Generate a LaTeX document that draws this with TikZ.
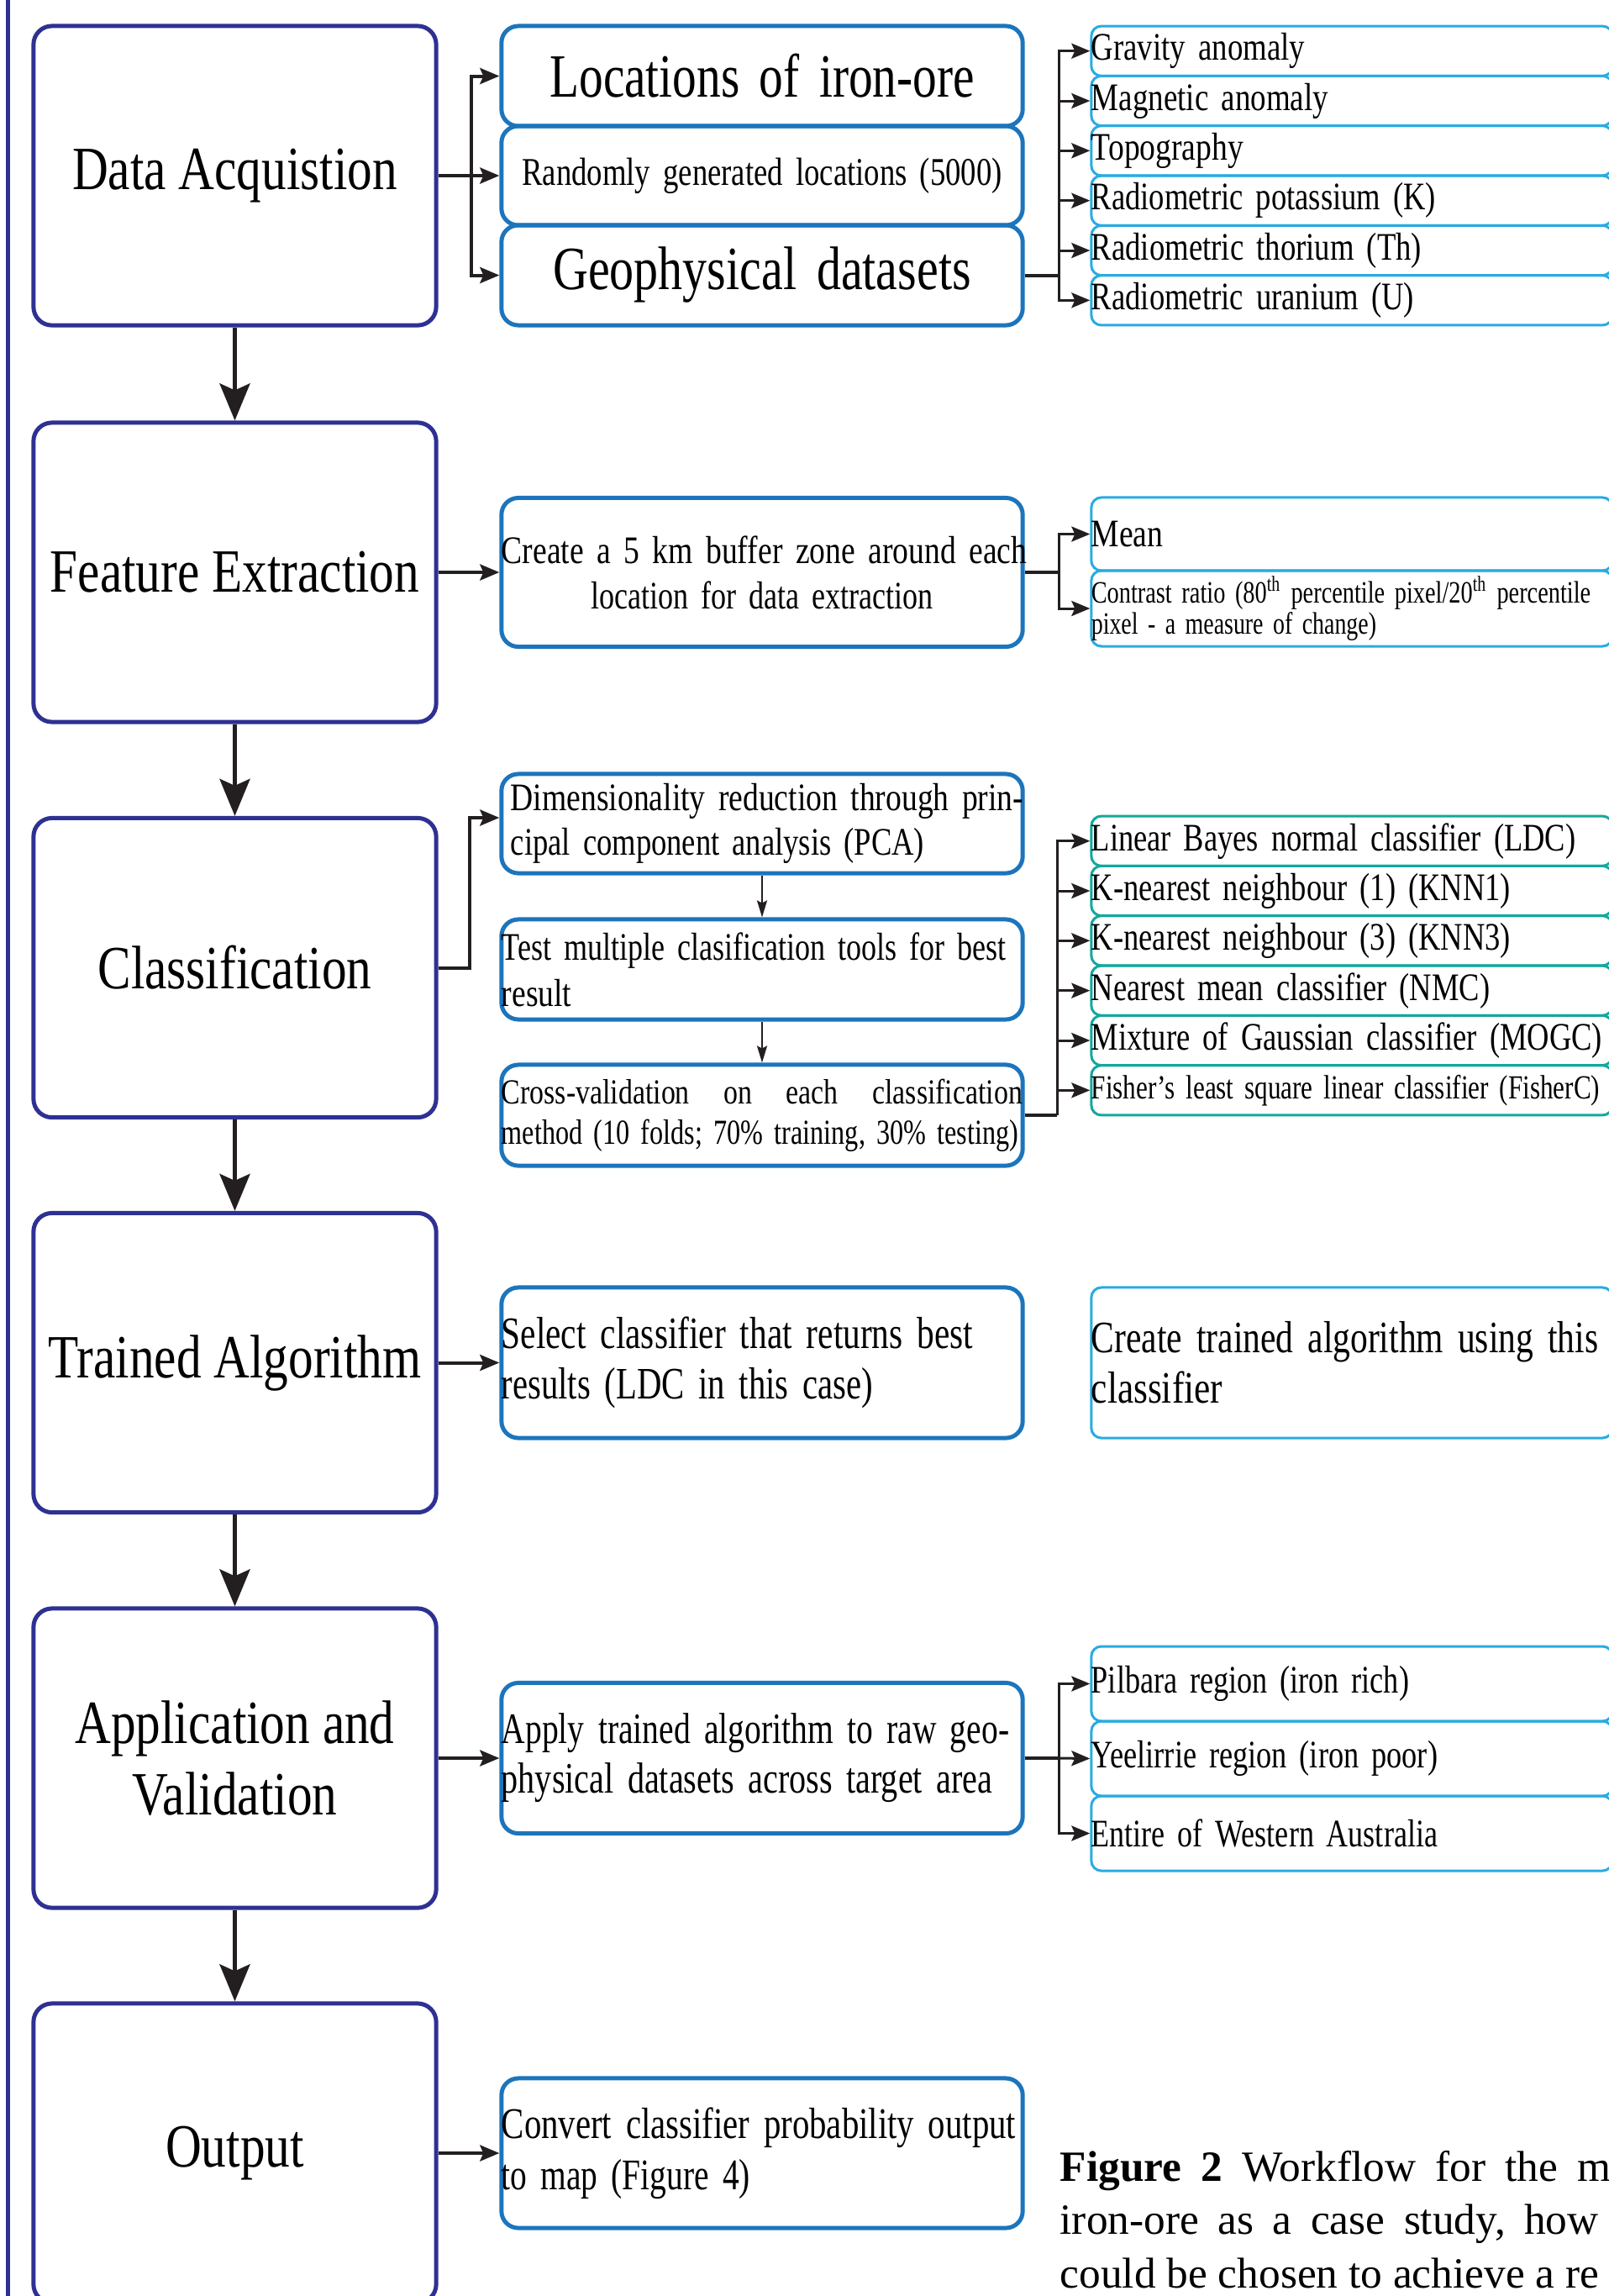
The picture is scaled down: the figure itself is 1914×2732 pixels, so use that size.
\documentclass[tikz,border=0pt]{standalone}
\usepackage{fontspec}
\usepackage{graphicx}
\setmainfont{Liberation Serif}
\newfontfamily\cnd[FakeStretch=0.81]{Liberation Serif}
\usetikzlibrary{arrows.meta,calc}
\definecolor{navy}{HTML}{2E3192}
\definecolor{midblue}{HTML}{1C75BC}
\definecolor{lblue}{HTML}{29ABE2}
\definecolor{tealc}{HTML}{12A89D}
\definecolor{ink}{HTML}{231F20}
\newcommand\cf[2]{\cnd\fontsize{#1pt}{#2pt}\selectfont}
\newcommand\LL[1]{\mbox{#1}}
\newcommand\fw[2]{\resizebox{#1}{\height}{#2}}
\begin{document}
\begin{tikzpicture}[x=0.01cm,y=-0.01cm,
  mainbox/.style={draw=navy, line width=0.05cm, rounded corners=0.22cm, minimum width=4.79cm, minimum height=3.56cm, inner sep=0pt, align=center, font=\cf{20.8}{24}},
  midbox/.style={draw=midblue, line width=0.05cm, rounded corners=0.2cm, text width=6.2cm, inner xsep=0pt, inner ysep=0pt, align=left, font=\cf{13.2}{15.2}},
  rbox/.style={draw=lblue, line width=0.03cm, rounded corners=0.12cm, text width=6.2cm, inner xsep=0pt, inner ysep=0pt, align=left, font=\cf{13.2}{15.2}},
  cbox/.style={rbox, draw=tealc, minimum height=0.593cm},
  dbox/.style={rbox, minimum height=0.593cm},
  conn/.style={draw=ink, line width=0.04cm},
  connR/.style={draw=ink, line width=0.03cm},
  arrM/.style={conn, -{Stealth[length=0.23cm,width=0.19cm,inset=0.04cm]}},
  arrR/.style={connR, -{Stealth[length=0.22cm,width=0.18cm,inset=0.04cm]}},
  arrB/.style={draw=ink, line width=0.05cm, -{Stealth[length=0.44cm,width=0.36cm,inset=0.08cm]}},
  arrS/.style={draw=ink, line width=0.02cm, -{Stealth[length=0.2cm,width=0.12cm,inset=0.03cm]}},
  capt/.style={inner sep=0pt, anchor=base west, font=\fontsize{14.6pt}{17.9pt}\selectfont}
]
\useasboundingbox (0,0) rectangle (1914,2732);
% left rule
\draw[navy, line width=0.05cm] (9.5,-10) -- (9.5,2745);

% main column
\node[mainbox] (da) at (279.5,209) {Data Acquistion};
\node[mainbox] (fe) at (279.5,681) {Feature Extraction};
\node[mainbox] (cl) at (279.5,1151.5) {Classification};
\node[mainbox] (ta) at (279.5,1621.5) {Trained Algorithm};
\node[mainbox] (av) at (279.5,2092) {Application and\\Validation};
\node[mainbox] (out) at (279.5,2562) {Output};

\draw[arrB] (da.south) -- (fe.north);
\draw[arrB] (fe.south) -- (cl.north);
\draw[arrB] (cl.south) -- (ta.north);
\draw[arrB] (ta.south) -- (av.north);
\draw[arrB] (av.south) -- (out.north);

% data acquisition
\node[midbox, minimum height=1.19cm, align=center, font=\cf{20.8}{24}] (loc) at (907,90.5) {\fw{5.05cm}{Locations of iron-ore}};
\node[midbox, minimum height=1.18cm, align=center, font=\cf{13.3}{15}] (rnd) at (907,209) {\fw{5.71cm}{Randomly generated locations (5000)}};
\node[midbox, minimum height=1.19cm, align=center, font=\cf{20.8}{24}] (geo) at (907,327.5) {\fw{4.97cm}{Geophysical datasets}};

\node[dbox] (g1) at (1609,60.7) {\fw{2.54cm}{Gravity anomaly}};
\node[dbox] (g2) at (1609,120) {\fw{2.82cm}{Magnetic anomaly}};
\node[dbox] (g3) at (1609,179.3) {\LL{Topography}};
\node[dbox] (g4) at (1609,238.7) {\fw{4.10cm}{Radiometric potassium (K)}};
\node[dbox] (g5) at (1609,298) {\fw{3.93cm}{Radiometric thorium (Th)}};
\node[dbox] (g6) at (1609,357.3) {\fw{3.84cm}{Radiometric uranium (U)}};

\coordinate (j1) at (561,209);
\draw[conn] (da.east) -- (j1);
\draw[arrM] (j1) |- (loc.west);
\draw[arrM] (j1) -- (rnd.west);
\draw[arrM] (j1) |- (geo.west);
\coordinate (j2) at (1260,327.5);
\draw[conn] (geo.east) -- (j2);
\foreach \n in {g1,g2,g3,g4,g5,g6} \draw[arrR] (j2) |- (\n.west);

% feature extraction
\node[midbox, minimum height=1.77cm, align=center, font=\cf{13.2}{15.4}] (buf) at (907,681) {\makebox[6.2cm][l]{Create \hfill a \hfill 5 \hfill km \hfill buffer \hfill zone \hfill around \hfill each}\\\fw{4.07cm}{location for data extraction}};
\node[rbox, minimum height=0.87cm] (mean) at (1609,635.5) {\LL{Mean}};
\node[rbox, minimum height=0.90cm, font=\cf{10.5}{10.3}] (ctr) at (1609,724) {\fw{5.94cm}{Contrast ratio (80\textsuperscript{th} percentile pixel/20\textsuperscript{th} percentile}\\\fw{3.39cm}{pixel - a measure of change)}};
\draw[arrM] (fe.east) -- (buf.west);
\coordinate (j3) at (1260,681);
\draw[conn] (buf.east) -- (j3);
\draw[arrR] (j3) |- (mean.west);
\draw[arrR] (j3) |- (ctr.west);

% classification
\node[midbox, minimum height=1.18cm] (pca) at (907,980) {\hspace*{0.11cm}\makebox[6.09cm][l]{Dimensionality \hfill reduction \hfill through \hfill prin-}\\\hspace*{0.11cm}\fw{4.92cm}{cipal component analysis (PCA)}};
\node[midbox, minimum height=1.19cm, font=\cf{13.2}{15.6}] (tst) at (907,1153.5) {\fw{6.0cm}{Test multiple clasification tools for best}\\\LL{result}};
\node[midbox, minimum height=1.20cm, font=\cf{11.9}{13.7}] (cv) at (907,1327) {\makebox[6.2cm][l]{Cross-validation \hfill on \hfill each \hfill classification}\\\fw{6.15cm}{method (10 folds; 70\% training, 30\% testing)}};
\coordinate (j4) at (559,1151.5);
\draw[arrM] (cl.east) -- (j4) |- ([yshift=0.07cm]pca.west);
\draw[arrS] (pca.south) -- (tst.north);
\draw[arrS] (tst.south) -- (cv.north);

\node[cbox] (c1) at (1609,1000.7) {\fw{5.76cm}{Linear Bayes normal classifier (LDC)}};
\node[cbox] (c2) at (1609,1060) {\fw{4.99cm}{K-nearest neighbour (1) (KNN1)}};
\node[cbox] (c3) at (1609,1119.3) {\fw{4.99cm}{K-nearest neighbour (3) (KNN3)}};
\node[cbox] (c4) at (1609,1178.7) {\fw{4.74cm}{Nearest mean classifier (NMC)}};
\node[cbox] (c5) at (1609,1238) {\fw{6.08cm}{Mixture of Gaussian classifier (MOGC)}};
\node[cbox, font=\cf{11.4}{13}] (c6) at (1609,1297.3) {\fw{6.05cm}{Fisher’s least square linear classifier (FisherC)}};
\coordinate (j5) at (1258,1327);
\draw[conn] (cv.east) -- (j5);
\foreach \n in {c1,c2,c3,c4,c5,c6} \draw[arrR] (j5) |- (\n.west);

% trained algorithm
\node[midbox, minimum height=1.79cm, font=\cf{15.2}{17}] (sel) at (907,1621.5) {\fw{5.61cm}{Select classifier that returns best}\\\fw{4.42cm}{results (LDC in this case)}};
\node[rbox, minimum height=1.79cm, font=\cf{15.2}{17}] (crt) at (1609,1621.5) {\fw{6.03cm}{Create trained algorithm using this}\\\LL{classifier}};
\draw[arrM] (ta.east) -- (sel.west);

% application
\node[midbox, minimum height=1.79cm, font=\cf{14.7}{16.8}] (app) at (907,2092) {\fw{6.04cm}{Apply trained algorithm to raw geo-}\\\fw{5.84cm}{physical datasets across target area}};
\node[rbox, minimum height=0.89cm] (pil) at (1609,2003.5) {\fw{3.78cm}{Pilbara region (iron rich)}};
\node[rbox, minimum height=0.89cm] (yee) at (1609,2092.5) {\fw{4.12cm}{Yeelirrie region (iron poor)}};
\node[rbox, minimum height=0.89cm] (ent) at (1609,2181.5) {\fw{4.12cm}{Entire of Western Australia}};
\draw[arrM] (av.east) -- (app.west);
\coordinate (j6) at (1260,2092);
\draw[conn] (app.east) -- (j6);
\draw[arrR] (j6) |- (pil.west);
\draw[arrR] (j6) -- (yee.west);
\draw[arrR] (j6) |- (ent.west);

% output
\node[midbox, minimum height=1.78cm, font=\cf{14.8}{17.4}] (conv) at (907,2562) {\fw{6.12cm}{Convert classifier probability output}\\\fw{2.96cm}{to map (Figure 4)}};
\draw[arrM] (out.east) -- (conv.west);

% caption
\node[capt] (cap1) at (1261,2595) {\spaceskip=0.232cm\relax\textbf{Figure 2} Workflow for the m};
\node[capt] (cap2) at (1261,2658) {\spaceskip=0.225cm\relax iron-ore as a case study, how};
\node[capt] (cap3) at (1261,2722) {could be chosen to achieve a re};
\end{tikzpicture}
\end{document}
